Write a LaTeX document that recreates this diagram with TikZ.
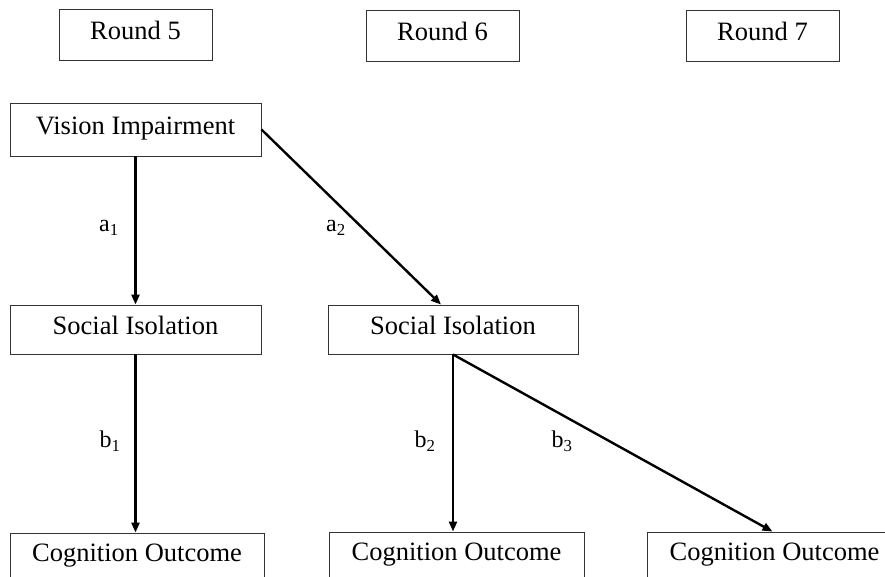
\documentclass[tikz,border=0pt]{standalone}
\usepackage{fontspec}
\setmainfont{Liberation Serif}
\usetikzlibrary{arrows.meta}
\begin{document}
\begin{tikzpicture}[x=1pt,y=-1pt,
  box/.style={draw=black!80,line width=0.9pt,inner sep=0pt,font=\fontsize{26.5}{28}\selectfont,text height=18pt,text depth=8pt,anchor=center},
  conn/.style={line width=2.4pt,-{Triangle[length=10pt,width=8pt]}},
  lbl/.style={font=\fontsize{24}{26}\selectfont,inner sep=0pt}]
\clip (0,0) rectangle (885,577);
\fill[white] (0,0) rectangle (885,577);
\node[box,minimum width=153pt,minimum height=51pt] (r5) at (135.5,35) {Round 5};
\node[box,minimum width=153pt,minimum height=51pt] (r6) at (442.5,35.5) {Round 6};
\node[box,minimum width=153pt,minimum height=51pt] (r7) at (762.5,35.5) {Round 7};
\node[box,minimum width=251pt,minimum height=53pt] (vi) at (135.5,129.5) {Vision Impairment};
\node[box,minimum width=251pt,minimum height=49pt] (sil) at (135.5,329.5) {Social Isolation};
\node[box,minimum width=250pt,minimum height=49pt] (sim) at (453,329.5) {Social Isolation};
\node[box,minimum width=254pt,minimum height=46pt] (col) at (137,556) {Cognition Outcome};
\node[box,minimum width=255pt,minimum height=46pt] (com) at (456.5,555) {Cognition Outcome};
\node[box,minimum width=255pt,minimum height=46pt] (cor) at (774.5,555) {Cognition Outcome};
\coordinate (a2end) at ([xshift=-12pt]sim.north);
\draw[conn] (vi.south) -- (sil.north);
\draw[conn] (vi.east) -- (a2end);
\draw[conn] (sil.south) -- (sil.south |- col.north);
\draw[conn] (sim.south) -- (sim.south |- com.north);
\draw[conn] (sim.south) -- ([xshift=-2pt]cor.north);
\node[lbl] (la1) at (109,228) {a\textsubscript{1}};
\node[lbl] (la2) at (336,228) {a\textsubscript{2}};
\node[lbl] (lb1) at (110,441) {b\textsubscript{1}};
\node[lbl] (lb2) at (425,441) {b\textsubscript{2}};
\node[lbl] (lb3) at (562,441) {b\textsubscript{3}};
\end{tikzpicture}
\end{document}
